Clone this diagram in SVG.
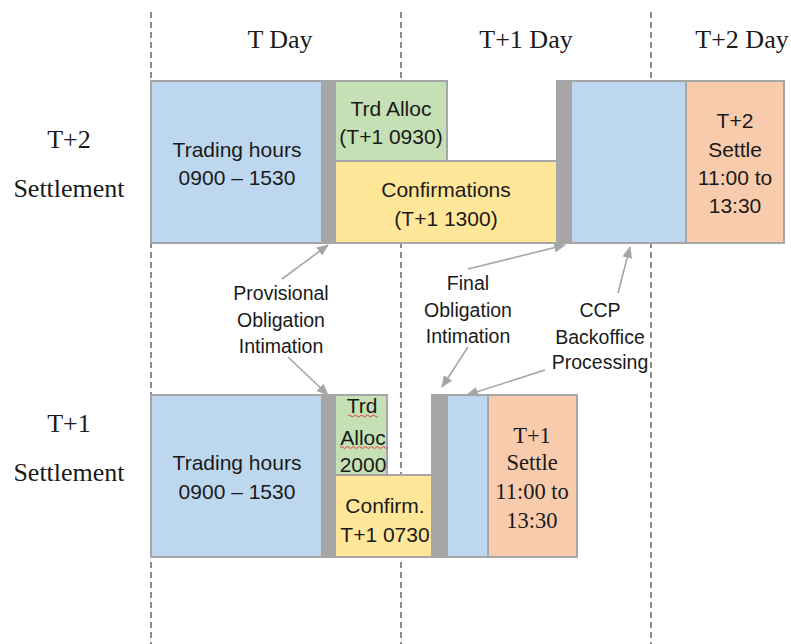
<svg xmlns="http://www.w3.org/2000/svg" width="791" height="644" viewBox="0 0 791 644">
<style>
.bx{stroke:#a6a6a6;stroke-width:2}
.blue{fill:#bdd7ee}.green{fill:#c5e0b4}.yel{fill:#ffe699}.peach{fill:#f8cbad}.bar{fill:#a6a6a6}
.s{font-family:"Liberation Sans",Arial,sans-serif;font-size:21px;fill:#1a1a1a;text-anchor:middle}
.m{font-family:"Liberation Sans",Arial,sans-serif;font-size:19.5px;fill:#1a1a1a;text-anchor:middle}
.r{font-family:"Liberation Serif","Times New Roman",serif;font-size:26px;fill:#1a1a1a;text-anchor:middle}
.rb{font-family:"Liberation Serif","Times New Roman",serif;font-size:22.5px;fill:#1a1a1a;text-anchor:middle}
.dash{stroke:#404040;stroke-width:1.2;stroke-dasharray:6 4;fill:none}
.arr{stroke:#a6a6a6;stroke-width:1.6;fill:none;marker-end:url(#ah)}
.sq{stroke:#e04040;stroke-width:1;fill:none}
</style>
<defs>
<marker id="ah" markerUnits="userSpaceOnUse" markerWidth="12" markerHeight="10" refX="11" refY="5" orient="auto">
<path d="M0,0 L12,5 L0,10 Z" fill="#a6a6a6"/>
</marker>
</defs>
<g id="gridlines">
<line class="dash" x1="151" y1="12" x2="151" y2="644"/>
<line class="dash" x1="401" y1="12" x2="401" y2="644"/>
<line class="dash" x1="651" y1="12" x2="651" y2="644"/>
</g>
<g id="headers">
<text class="r" x="280" y="48">T Day</text>
<text class="r" x="526" y="48">T+1 Day</text>
<text class="r" x="742" y="48">T+2 Day</text>
</g>
<g id="row-labels">
<text class="r" x="69" y="148">T+2</text>
<text class="r" x="69" y="197">Settlement</text>
<text class="r" x="69" y="432">T+1</text>
<text class="r" x="69" y="481">Settlement</text>
</g>
<g id="t2-trading">
<rect class="bx blue" x="151" y="81" width="171" height="162"/>
<text class="s" x="237" y="157">Trading hours</text>
<text class="s" x="237" y="185">0900 – 1530</text>
</g>
<g id="t2-bar1"><rect class="bx bar" x="322" y="81" width="13" height="162"/></g>
<g id="t2-alloc">
<rect class="bx green" x="335" y="81" width="112" height="80"/>
<text class="s" x="391" y="116">Trd Alloc</text>
<text class="s" x="391" y="144">(T+1 0930)</text>
</g>
<g id="t2-confirm">
<rect class="bx yel" x="335" y="161" width="222" height="82"/>
<text class="s" x="446" y="197">Confirmations</text>
<text class="s" x="446" y="226">(T+1 1300)</text>
</g>
<g id="t2-bar2"><rect class="bx bar" x="557" y="81" width="14" height="162"/></g>
<g id="t2-ccp"><rect class="bx blue" x="571" y="81" width="115" height="162"/></g>
<g id="t2-settle">
<rect class="bx peach" x="686" y="81" width="98" height="162"/>
<text class="s" x="735" y="128">T+2</text>
<text class="s" x="735" y="157">Settle</text>
<text class="s" x="735" y="185">11:00 to</text>
<text class="s" x="735" y="213">13:30</text>
</g>
<g id="t1-trading">
<rect class="bx blue" x="151" y="395" width="171" height="162"/>
<text class="s" x="237" y="470">Trading hours</text>
<text class="s" x="237" y="499">0900 – 1530</text>
</g>
<g id="t1-bar1"><rect class="bx bar" x="322" y="395" width="13" height="162"/></g>
<g id="t1-alloc">
<rect class="bx green" x="335" y="395" width="52" height="80"/>
<text class="s" x="362" y="413">Trd</text>
<text class="s" x="363" y="445">Alloc</text>
<text class="s" x="363" y="472">2000</text>
<path class="sq" d="M348,416 q1.5,-2 3,0 t3,0 t3,0 t3,0 t3,0 t3,0 t3,0 t3,0 t3,0 t3,0"/>
<path class="sq" d="M340,447.5 q1.5,-2 3,0 t3,0 t3,0 t3,0 t3,0 t3,0 t3,0 t3,0 t3,0 t3,0 t3,0 t3,0 t3,0 t3,0 t3,0 t3,0"/>
</g>
<g id="t1-confirm">
<rect class="bx yel" x="335" y="475" width="97" height="82"/>
<text class="s" x="385" y="513">Confirm.</text>
<text class="s" x="385" y="542">T+1 0730</text>
</g>
<g id="t1-bar2"><rect class="bx bar" x="432" y="395" width="15" height="162"/></g>
<g id="t1-ccp"><rect class="bx blue" x="447" y="395" width="41" height="162"/></g>
<g id="t1-settle">
<rect class="bx peach" x="488" y="395" width="89" height="162"/>
<text class="rb" x="532" y="443">T+1</text>
<text class="rb" x="532" y="470">Settle</text>
<text class="rb" x="532" y="499">11:00 to</text>
<text class="rb" x="532" y="528">13:30</text>
</g>
<g id="label-provisional">
<text class="m" x="281" y="300">Provisional</text>
<text class="m" x="281" y="327">Obligation</text>
<text class="m" x="281" y="353">Intimation</text>
</g>
<g id="label-final">
<text class="m" x="468" y="290">Final</text>
<text class="m" x="468" y="317">Obligation</text>
<text class="m" x="468" y="343">Intimation</text>
</g>
<g id="label-ccp">
<text class="m" x="600" y="317">CCP</text>
<text class="m" x="600" y="344">Backoffice</text>
<text class="m" x="600" y="369">Processing</text>
</g>
<g id="connectors">
<line class="arr" x1="282" y1="279" x2="328" y2="245"/>
<line class="arr" x1="288" y1="357" x2="328" y2="395"/>
<line class="arr" x1="468" y1="269" x2="565" y2="245"/>
<line class="arr" x1="468" y1="347" x2="442" y2="387"/>
<line class="arr" x1="618" y1="293" x2="630" y2="247"/>
<line class="arr" x1="545" y1="370" x2="467" y2="395"/>
</g>
</svg>
